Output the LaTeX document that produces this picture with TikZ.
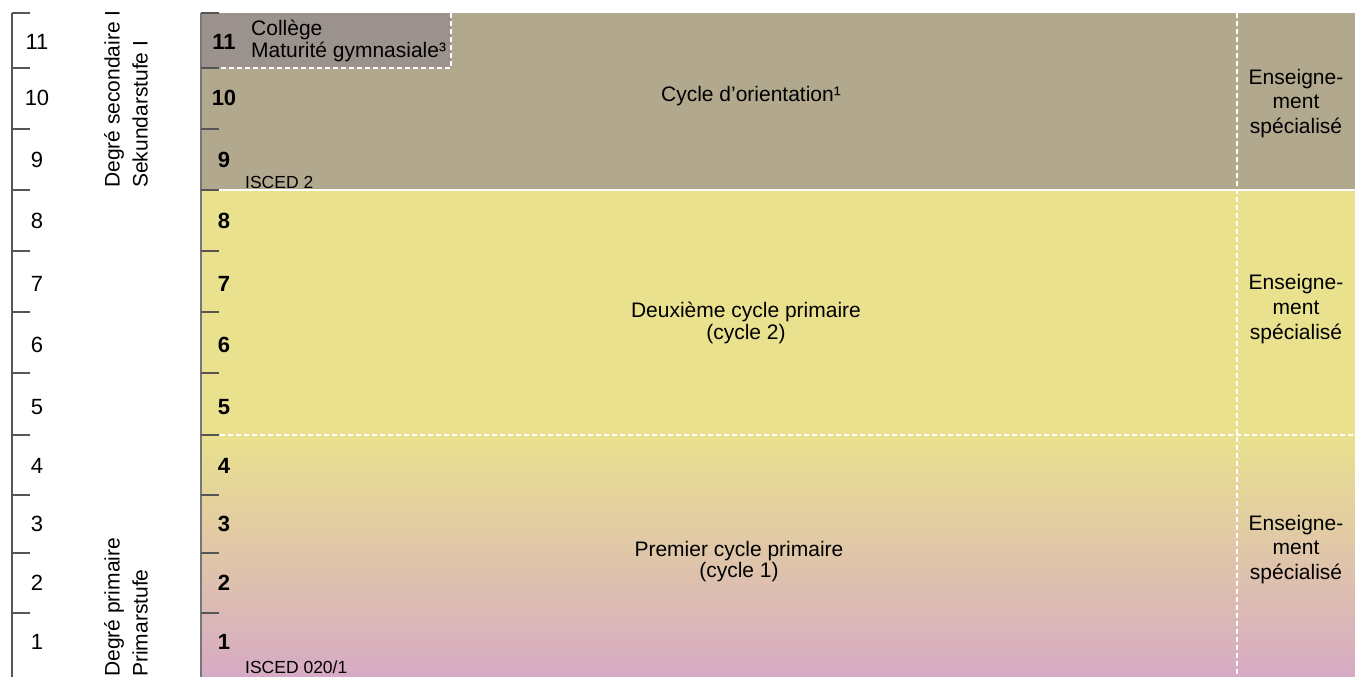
\documentclass[tikz,border=0pt]{standalone}
\usepackage{fontspec}
\setmainfont{Liberation Sans}
\usetikzlibrary{positioning}

\definecolor{secgray}{HTML}{B2A88E}
\definecolor{collgray}{HTML}{9B918D}
\definecolor{primyellow}{HTML}{E9E18E}
\definecolor{primpink}{HTML}{D6AAC4}
\definecolor{tickgray}{HTML}{555555}

\begin{document}
\begin{tikzpicture}[x=1pt, y=-1pt, node distance=187pt,
    every node/.style={inner sep=0pt, font=\fontsize{21}{25}\selectfont},
    year/.style={font=\fontsize{22}{26}\selectfont},
    grade/.style={font=\bfseries\fontsize{22}{26}\selectfont},
    isced/.style={anchor=base west, font=\fontsize{17.5}{20}\selectfont},
    level/.style={rotate=90, anchor=north west, align=left, font=\fontsize{21}{28}\selectfont},
    cycle/.style={align=center, font=\fontsize{21}{21.7}\selectfont},
    special/.style={align=center, font=\fontsize{21}{24.7}\selectfont},
    wdash/.style={white, line width=1.5pt, dash pattern=on 5pt off 3pt}]

    \useasboundingbox (0,0) rectangle (1355,677);

    % school blocks
    \fill[secgray] (201,13) rectangle (1355,190);
    \fill[collgray] (201,13) rectangle (451,68);
    \fill[primyellow] (201,190) rectangle (1355,435);
    \shade[top color=primyellow, bottom color=primpink] (201,435) rectangle (1355,677);

    \draw[white, line width=1.5pt] (201,190) -- (1355,190);
    \draw[wdash] (220,435) -- (1355,435);
    \draw[wdash] (1237,13) -- (1237,677);
    \draw[wdash] (451,13) -- (451,68) -- (220,68);

    % year axis
    \draw[tickgray, line width=1.2pt] (12,13) -- (12,677);
    \draw[tickgray, line width=1.2pt] (12,13) -- (30,13) (12,68) -- (30,68)
        (12,129) -- (30,129) (12,190) -- (30,190) (12,251) -- (30,251)
        (12,312) -- (30,312) (12,373) -- (30,373) (12,435) -- (30,435)
        (12,495) -- (30,495) (12,553) -- (30,553) (12,613) -- (30,613);
    \draw[tickgray!80, line width=1.5pt] (201,13) -- (201,677);
    \draw[tickgray, line width=1.2pt] (201,13) -- (219,13) (201,68) -- (219,68)
        (201,129) -- (219,129) (201,190) -- (219,190) (201,251) -- (219,251)
        (201,312) -- (219,312) (201,373) -- (219,373) (201,435) -- (219,435)
        (201,495) -- (219,495) (201,553) -- (219,553) (201,613) -- (219,613);

    \node[year] (A11) at (37,42) {11};
    \node[year] (A10) at (37,98) {10};
    \node[year] (A9) at (37,160) {9};
    \node[year] (A8) at (37,221) {8};
    \node[year] (A7) at (37,284) {7};
    \node[year] (A6) at (37,345) {6};
    \node[year] (A5) at (37,407) {5};
    \node[year] (A4) at (37,466) {4};
    \node[year] (A3) at (37,524) {3};
    \node[year] (A2) at (37,583) {2};
    \node[year] (A1) at (37,642) {1};

    \node[grade] (G11) [right of=A11] {11};
    \node[grade] (G10) [right of=A10] {10};
    \node[grade] (G9) [right of=A9] {9};
    \node[grade] (G8) [right of=A8] {8};
    \node[grade] (G7) [right of=A7] {7};
    \node[grade] (G6) [right of=A6] {6};
    \node[grade] (G5) [right of=A5] {5};
    \node[grade] (G4) [right of=A4] {4};
    \node[grade] (G3) [right of=A3] {3};
    \node[grade] (G2) [right of=A2] {2};
    \node[grade] (G1) [right of=A1] {1};

    % levels
    \node[level] (SEC) at (104,188) {Degré secondaire I\\Sekundarstufe I};
    \node[level] (PRIM) at (104,677) {Degré primaire\\Primarstufe};

    \node[isced] (ISC2) at (245,188) {ISCED 2};
    \node[isced] (ISC01) at (245,673) {ISCED 020/1};

    \node[align=left, anchor=north west, font=\fontsize{21}{22}\selectfont] (COLL) at (251,19.5)
        {Collège\\Maturité gymnasiale³};

    \node (ORIENT) at (751,96.5) {Cycle d’orientation¹};
    \node[cycle] (CYC2) at (746,323) {Deuxième cycle primaire\\(cycle 2)};
    \node[cycle] (CYC1) at (739,561.5) {Premier cycle primaire\\(cycle 1)};

    \node[special] (ES3) at (1296,103.3) {Enseigne-\\ment\\spécialisé};
    \node[special] (ES2) at (1296,309) {Enseigne-\\ment\\spécialisé};
    \node[special] (ES1) at (1296,549.5) {Enseigne-\\ment\\spécialisé};
\end{tikzpicture}
\end{document}
